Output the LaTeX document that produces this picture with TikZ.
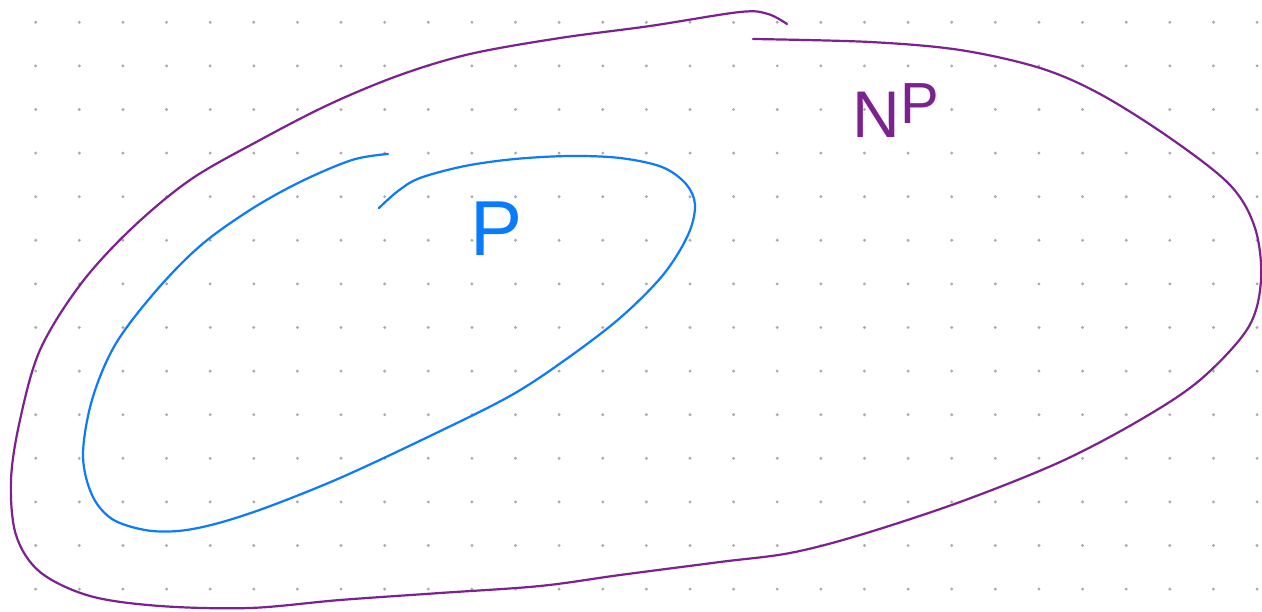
\documentclass[tikz,border=0pt]{standalone}
\usepackage{fontspec}
\setmainfont{Liberation Sans}
\definecolor{npcol}{RGB}{125,33,145}
\definecolor{pcol}{RGB}{10,122,255}
\definecolor{dotcol}{RGB}{170,170,170}
\begin{document}
\begin{tikzpicture}[x=1pt,y=-1pt,
  npline/.style={draw=npcol,line width=2.2pt,line cap=round},
  pline/.style={draw=pcol,line width=2.2pt,line cap=round},
  griddot/.style={fill=dotcol}]
\useasboundingbox (0,0) rectangle (1262,612);
\fill[white] (0,0) rectangle (1262,612);
% dot grid
\foreach \i in {0,...,28}{
  \foreach \j in {0,...,13}{
    \fill[griddot] ({35.7+43.62*\i},{22.3+43.6*\j}) circle (1.6);
  }
}
% NP set
\draw[npline] plot[smooth,tension=0.55] coordinates {
 (753,39) (870,42) (960,50) (1040,68) (1100,94) (1170,138) (1230,185) (1255,228)
 (1261,280) (1248,328) (1200,380) (1140,420) (1060,462) (960,502) (860,535)
 (790,553) (720,562) (620,575) (540,586) (440,593) (340,600) (250,608) (160,606)
 (90,596) (40,572) (16,535) (11,480) (20,420) (40,350) (80,285) (130,230)
 (190,180) (260,140) (330,104) (400,75) (470,54) (560,38) (650,26) (740,12)
 (768,14) (787,24)};
% P set
\draw[pline] plot[smooth,tension=0.55] coordinates {
 (388,154) (352,160) (300,182) (250,210) (200,246) (155,292) (115,345) (92,400)
 (83,455) (92,495) (112,519) (145,530) (178,531) (215,524) (265,508) (340,478)
 (430,436) (510,396) (565,360) (620,318) (663,275) (688,235) (695,205) (686,184)
 (662,167) (620,158) (570,156) (515,159) (465,166) (420,178) (398,191) (379,208)};
% labels
\node[text=npcol,anchor=base west,inner sep=0pt] (nplabel)
  at (852,138) {\fontsize{66}{66}\selectfont N\kern1pt\raisebox{14pt}{\fontsize{58}{58}\selectfont P}};
\node[text=pcol,font=\fontsize{78}{78}\selectfont,anchor=center,inner sep=0pt] (plabel)
  at (497,229) {P};
\end{tikzpicture}
\end{document}
